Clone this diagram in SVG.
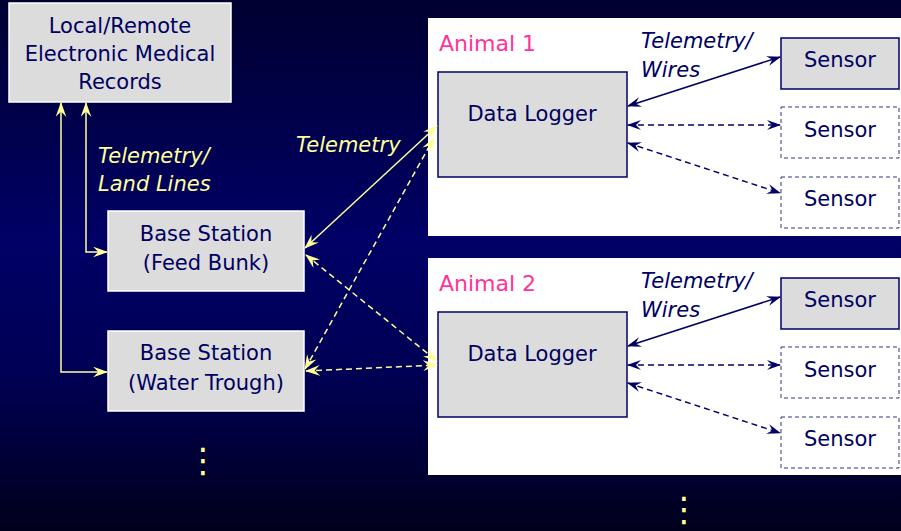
<svg xmlns="http://www.w3.org/2000/svg" width="901" height="531" viewBox="0 0 901 531">
<defs>
<linearGradient id="bg" x1="0" y1="0" x2="0" y2="1">
<stop offset="0" stop-color="#000030"/>
<stop offset="0.45" stop-color="#000066"/>
<stop offset="0.7" stop-color="#000055"/>
<stop offset="1" stop-color="#00001c"/>
</linearGradient>
<marker id="ay" viewBox="0 0 14 10" refX="13" refY="5" markerWidth="15" markerHeight="11" markerUnits="userSpaceOnUse" orient="auto-start-reverse">
<path d="M0,0 L14,5 L0,10 L5,5 z" fill="#ffff99"/>
</marker>
<marker id="an" viewBox="0 0 14 10" refX="13" refY="5" markerWidth="14" markerHeight="10" markerUnits="userSpaceOnUse" orient="auto-start-reverse">
<path d="M0,0 L14,5 L0,10 L5,5 z" fill="#000066"/>
</marker>
<style>
text{font-family:"DejaVu Sans","Liberation Sans",sans-serif;font-size:21px;fill:#000060}
.c{text-anchor:middle}
.ly{font-style:italic;fill:#ffff99}
.ln{font-style:italic}
.pink{fill:#ff3399;font-size:22px}
.gbox{fill:#dcdcdc;stroke:#ffffff;stroke-width:1.5}
.dl{fill:#dcdcdc;stroke:#000066;stroke-width:1.5}
.s1{fill:#dcdcdc;stroke:#000066;stroke-width:1.5}
.s2{fill:#ffffff;stroke:#333388;stroke-width:1;stroke-dasharray:4 3}
.panel{fill:#ffffff}
.y{stroke:#ffff99;stroke-width:1.5;fill:none}
.yd{stroke:#ffff99;stroke-width:1.5;fill:none;stroke-dasharray:6 4}
.n{stroke:#000066;stroke-width:1.5;fill:none}
.nd{stroke:#000066;stroke-width:1.5;fill:none;stroke-dasharray:6 4}
.dot{fill:#ffff99;font-size:34px;text-anchor:middle}
</style>
</defs>
<rect x="0" y="0" width="901" height="531" fill="url(#bg)"/>

<g id="animal1-panel">
<rect class="panel" x="428" y="18" width="473" height="218"/>
<text class="pink" x="439" y="51">Animal 1</text>
</g>
<g id="animal2-panel">
<rect class="panel" x="428" y="258" width="473" height="217"/>
<text class="pink" x="439" y="291">Animal 2</text>
</g>

<g id="emr">
<rect class="gbox" x="9" y="3" width="222" height="99"/>
<text class="c" x="120" y="33">Local/Remote</text>
<text class="c" x="120" y="61">Electronic Medical</text>
<text class="c" x="120" y="89">Records</text>
</g>
<g id="base-feed">
<rect class="gbox" x="108" y="211" width="196" height="80"/>
<text class="c" x="206" y="241">Base Station</text>
<text class="c" x="206" y="270">(Feed Bunk)</text>
</g>
<g id="base-water">
<rect class="gbox" x="108" y="331" width="196" height="80"/>
<text class="c" x="206" y="360">Base Station</text>
<text class="c" x="206" y="390">(Water Trough)</text>
</g>

<g id="logger1">
<rect class="dl" x="438" y="72" width="189" height="105"/>
<text class="c" x="532" y="121">Data Logger</text>
</g>
<g id="sensor1a">
<rect class="s1" x="781" y="38" width="118" height="51"/>
<text class="c" x="840" y="67">Sensor</text>
</g>
<g id="sensor1b">
<rect class="s2" x="781" y="107" width="118" height="51"/>
<text class="c" x="840" y="137">Sensor</text>
</g>
<g id="sensor1c">
<rect class="s2" x="781" y="177" width="118" height="51"/>
<text class="c" x="840" y="206">Sensor</text>
</g>

<g id="logger2">
<rect class="dl" x="438" y="312" width="189" height="105"/>
<text class="c" x="532" y="361">Data Logger</text>
</g>
<g id="sensor2a">
<rect class="s1" x="781" y="278" width="118" height="51"/>
<text class="c" x="840" y="307">Sensor</text>
</g>
<g id="sensor2b">
<rect class="s2" x="781" y="347" width="118" height="51"/>
<text class="c" x="840" y="377">Sensor</text>
</g>
<g id="sensor2c">
<rect class="s2" x="781" y="417" width="118" height="51"/>
<text class="c" x="840" y="446">Sensor</text>
</g>

<g id="connectors">
<polyline class="y" points="61,103 61,372 107,372" marker-start="url(#ay)" marker-end="url(#ay)"/>
<polyline class="y" points="86,103 86,252 107,252" marker-start="url(#ay)" marker-end="url(#ay)"/>
<line class="y" x1="305" y1="248" x2="437" y2="126" marker-start="url(#ay)" marker-end="url(#ay)"/>
<line class="yd" x1="305" y1="369" x2="434" y2="138" marker-start="url(#ay)" marker-end="url(#ay)"/>
<line class="yd" x1="306" y1="255" x2="437" y2="361" marker-start="url(#ay)" marker-end="url(#ay)"/>
<line class="yd" x1="306" y1="371" x2="437" y2="365" marker-start="url(#ay)" marker-end="url(#ay)"/>

<line class="n" x1="628" y1="106" x2="780" y2="57" marker-start="url(#an)" marker-end="url(#an)"/>
<line class="nd" x1="628" y1="125" x2="780" y2="125" marker-start="url(#an)" marker-end="url(#an)"/>
<line class="nd" x1="628" y1="143" x2="780" y2="193" marker-start="url(#an)" marker-end="url(#an)"/>
<line class="n" x1="628" y1="346" x2="780" y2="297" marker-start="url(#an)" marker-end="url(#an)"/>
<line class="nd" x1="628" y1="365" x2="780" y2="365" marker-start="url(#an)" marker-end="url(#an)"/>
<line class="nd" x1="628" y1="383" x2="780" y2="433" marker-start="url(#an)" marker-end="url(#an)"/>
</g>

<g id="labels">
<text class="ly" x="98" y="163">Telemetry/</text>
<text class="ly" x="98" y="191">Land Lines</text>
<text class="ly" x="296" y="152">Telemetry</text>
<text class="ln" x="641" y="48">Telemetry/</text>
<text class="ln" x="641" y="77">Wires</text>
<text class="ln" x="641" y="288">Telemetry/</text>
<text class="ln" x="641" y="317">Wires</text>
</g>

<g id="ellipses">
<text class="dot" x="203" y="472">⋮</text>
<text class="dot" x="684" y="521">⋮</text>
</g>
</svg>
